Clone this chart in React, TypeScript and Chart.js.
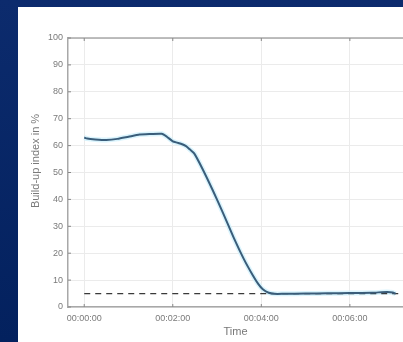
import React, { useEffect, useRef } from "react";
import { Chart, registerables } from "chart.js";

Chart.register(...registerables);

// Time in seconds since start, build-up index in %
const TIME_S = [0, 4, 15, 30, 45, 60, 75, 90, 105, 112, 120, 126, 131, 138, 143, 149, 160, 174, 188, 203, 216, 228, 236, 242, 250, 258, 270, 300, 330, 360, 390, 410, 418, 422];
const BUILDUP = [63, 62.6, 62.3, 62.1, 62.5, 63.3, 64.1, 64.3, 64.4, 63.3, 61.6, 61.1, 60.7, 59.8, 58.6, 57.1, 51.5, 43.5, 35, 25.5, 18, 12, 8.5, 6.6, 5.3, 4.9, 4.9, 5, 5.1, 5.2, 5.3, 5.6, 5.4, 4.9];
const THRESHOLD_T = [0, 432];
const THRESHOLD_V = [5, 5];
const X_TICKS = [0, 120, 240, 360];
const X_TICK_LABELS = ["00:00:00", "00:02:00", "00:04:00", "00:06:00"];
const Y_TICKS = [0, 10, 20, 30, 40, 50, 60, 70, 80, 90, 100];
const Y_TITLE = "Build-up index in %";
const X_TITLE = "Time";

const FONT = "'Liberation Sans', Arial, sans-serif";
const AXIS_COLOR = "#a8a8a8";

const framePlugin = {
  id: "frame",
  afterDraw(chart: any) {
    const { ctx, chartArea } = chart;
    const { left, right, top, bottom } = chartArea;
    const xs = chart.scales.x;
    const ys = chart.scales.y;
    ctx.save();
    ctx.strokeStyle = AXIS_COLOR;
    ctx.lineWidth = 1.5;
    ctx.beginPath();
    ctx.moveTo(left, top);
    ctx.lineTo(right, top);
    ctx.stroke();
    ctx.lineWidth = 1;
    ctx.strokeStyle = "#888";
    ctx.beginPath();
    X_TICKS.forEach((v) => {
      const px = xs.getPixelForValue(v);
      ctx.moveTo(px, bottom);
      ctx.lineTo(px, bottom - 3);
      ctx.moveTo(px, top);
      ctx.lineTo(px, top + 3);
    });
    Y_TICKS.forEach((v) => {
      const py = ys.getPixelForValue(v);
      ctx.moveTo(left, py);
      ctx.lineTo(left + 3, py);
    });
    ctx.stroke();
    // y axis title
    ctx.translate(18, 154);
    ctx.rotate(-Math.PI / 2);
    ctx.font = `11px ${FONT}`;
    ctx.fillStyle = "#7a7a7a";
    ctx.textAlign = "center";
    ctx.textBaseline = "middle";
    ctx.fillText(Y_TITLE, 0, 0);
    ctx.restore();
  },
};

export default function App() {
  const ref = useRef<HTMLCanvasElement | null>(null);

  useEffect(() => {
    if (!ref.current) return;
    const mainPts = TIME_S.map((t, i) => ({ x: t, y: BUILDUP[i] }));
    const chart = new Chart(ref.current, {
      type: "line",
      data: {
        datasets: [
          {
            data: mainPts,
            borderColor: "#3a5d7a",
            borderWidth: 2,
            pointRadius: 0,
            tension: 0.2,
          },
          {
            data: THRESHOLD_T.map((t, i) => ({ x: t, y: THRESHOLD_V[i] })),
            borderColor: "#3a3a3a",
            borderWidth: 1.3,
            borderDash: [6, 5],
            pointRadius: 0,
          },
          {
            data: mainPts,
            borderColor: "rgba(205,240,252,0.75)",
            borderWidth: 5,
            pointRadius: 0,
            tension: 0.2,
          },
        ],
      },
      options: {
        responsive: false,
        animation: false,
        events: [],
        layout: { padding: { top: 31, right: 0, left: 0, bottom: 0 } },
        plugins: { legend: { display: false }, tooltip: { enabled: false }, title: { display: false } },
        scales: {
          x: {
            type: "linear",
            min: -22,
            max: 432,
            afterFit: (s: any) => {
              s.height = 35;
            },
            afterBuildTicks: (s: any) => {
              s.ticks = X_TICKS.map((v) => ({ value: v }));
            },
            grid: { color: "#ebebeb", lineWidth: 1, drawTicks: false },
            border: { display: true, color: AXIS_COLOR, width: 1.5 },
            ticks: {
              padding: 6,
              color: "#7a7a7a",
              font: { family: FONT, size: 9 },
              maxRotation: 0,
              autoSkip: false,
              callback: (v: any) => {
                const i = X_TICKS.indexOf(Number(v));
                return i >= 0 ? X_TICK_LABELS[i] : "";
              },
            },
            title: {
              display: true,
              text: X_TITLE,
              color: "#777",
              font: { family: FONT, size: 11 },
              padding: { top: 0, bottom: 3 },
            },
          },
          y: {
            min: 0,
            max: 100,
            afterFit: (s: any) => {
              s.width = 50;
            },
            afterBuildTicks: (s: any) => {
              s.ticks = Y_TICKS.map((v) => ({ value: v }));
            },
            grid: { color: "#ebebeb", lineWidth: 1, drawTicks: false },
            border: { display: true, color: AXIS_COLOR, width: 1.5 },
            ticks: {
              padding: 5,
              color: "#7a7a7a",
              font: { family: FONT, size: 9 },
            },
          },
        },
      },
      plugins: [framePlugin],
    });
    return () => chart.destroy();
  }, []);

  return (
    <div
      style={{
        position: "fixed",
        left: 0,
        top: 0,
        width: 403,
        height: 342,
        background: "linear-gradient(#0c2b6d, #03215e)",
        overflow: "hidden",
      }}
    >
      <div style={{ position: "absolute", left: 18, top: 7, width: 385, height: 335, background: "#fff" }}>
        <canvas ref={ref} width={385} height={335} style={{ display: "block" }} />
      </div>
    </div>
  );
}
